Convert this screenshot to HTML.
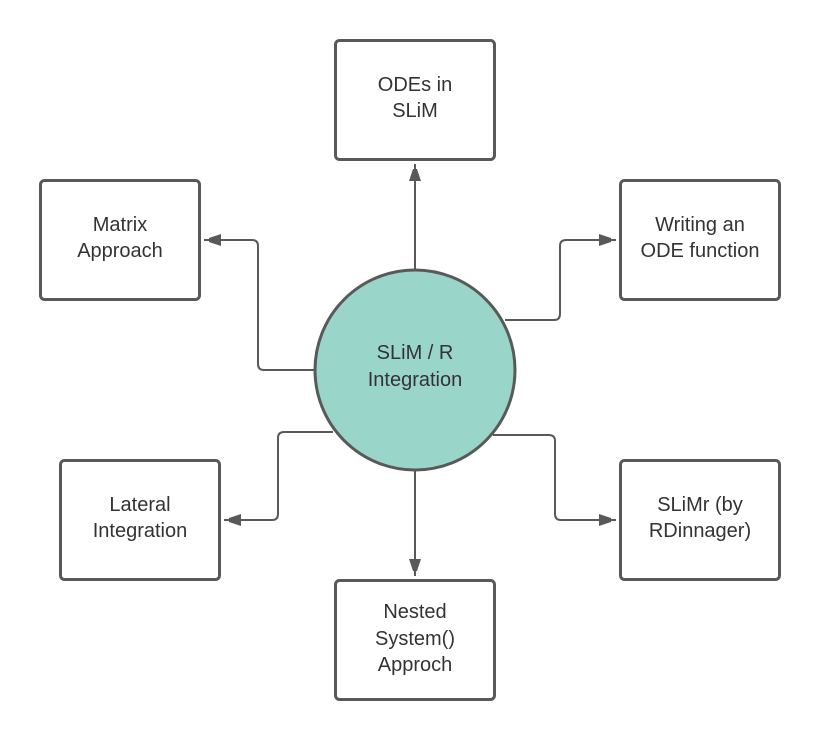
<!DOCTYPE html>
<html><head><meta charset="utf-8"><style>
html,body{margin:0;padding:0;background:#fff;width:820px;height:740px;overflow:hidden}
text{font-family:"Liberation Sans",sans-serif;font-size:20px;fill:#333}
</style></head><body>
<svg width="820" height="740" viewBox="0 0 820 740" xmlns="http://www.w3.org/2000/svg">
<defs><marker id="a" markerWidth="10" markerHeight="10" refX="9" refY="5" orient="auto" markerUnits="userSpaceOnUse"><path d="M0,0 L10,5 L0,10 z" fill="#595959"/></marker>
<marker id="b" viewBox="0 0 12 18" markerWidth="12" markerHeight="18" refX="17" refY="6" orient="auto" markerUnits="userSpaceOnUse"><path d="M0,0 L18,6 L0,12 z" fill="#595959"/></marker></defs>
<g fill="none" stroke="#595959" stroke-width="2">
<path d="M415 270 V164" marker-end="url(#b)"/>
<path d="M315 370 H264 Q258 370 258 364 V246 Q258 240 252 240 H204" marker-end="url(#b)"/>
<path d="M505 320 H554 Q560 320 560 314 V246 Q560 240 566 240 H616" marker-end="url(#b)"/>
<path d="M333 432 H284 Q278 432 278 438 V514 Q278 520 272 520 H224" marker-end="url(#b)"/>
<path d="M493 435 H549 Q555 435 555 441 V514 Q555 520 561 520 H616" marker-end="url(#b)"/>
<path d="M415 470 V576" marker-end="url(#b)"/>
</g>
<g fill="#fff" stroke="#595959" stroke-width="3">
<rect x="335.5" y="40.5" width="159" height="119" rx="4"/>
<rect x="40.5" y="180.5" width="159" height="119" rx="4"/>
<rect x="620.5" y="180.5" width="159" height="119" rx="4"/>
<rect x="60.5" y="460.5" width="159" height="119" rx="4"/>
<rect x="620.5" y="460.5" width="159" height="119" rx="4"/>
<rect x="335.5" y="580.5" width="159" height="119" rx="4"/>
</g>
<circle cx="415" cy="370" r="100" fill="#9ad5ca" stroke="#595959" stroke-width="3"/>
<g text-anchor="middle">
<text x="415" y="91">ODEs in</text><text x="415" y="117">SLiM</text>
<text x="120" y="231">Matrix</text><text x="120" y="257">Approach</text>
<text x="700" y="231">Writing an</text><text x="700" y="257">ODE function</text>
<text x="415" y="359">SLiM / R</text><text x="415" y="386">Integration</text>
<text x="140" y="511">Lateral</text><text x="140" y="537">Integration</text>
<text x="700" y="511">SLiMr (by</text><text x="700" y="537">RDinnager)</text>
<text x="415" y="618">Nested</text><text x="415" y="645">System()</text><text x="415" y="671">Approch</text>
</g>
</svg>
</body></html>
